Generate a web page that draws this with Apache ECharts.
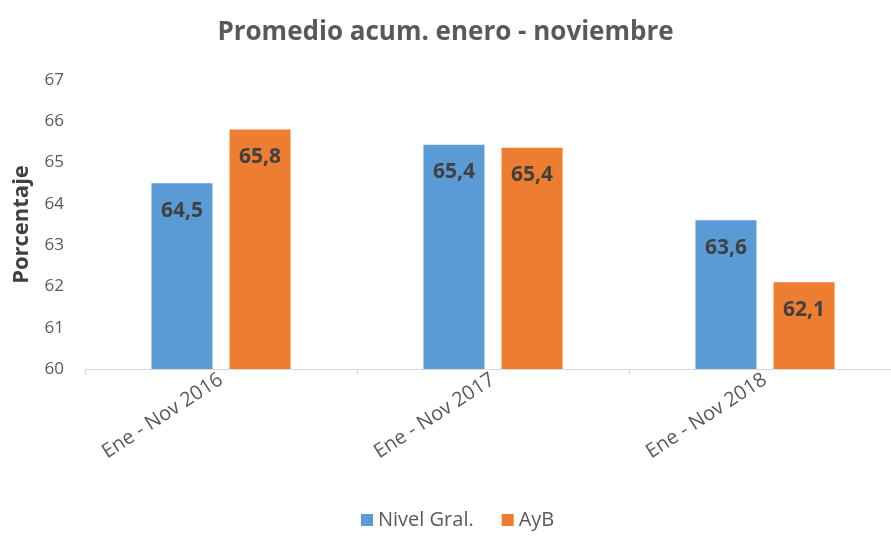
<!DOCTYPE html>
<html>
<head>
<meta charset="utf-8">
<script src="https://cdn.jsdelivr.net/npm/echarts@6/dist/echarts.min.js"></script>
<style>
    html, body { margin: 0; padding: 0; background: #fff; }
    #main { width: 891px; height: 537px; }
</style>
</head>
<body>
<div id="main"></div>
<script>
var categories = ['Ene - Nov 2016', 'Ene - Nov 2017', 'Ene - Nov 2018'];
var nivelGral = [64.5, 65.43, 63.6];
var ayb = [65.8, 65.36, 62.1];

var myChart = echarts.init(document.getElementById('main'));

var fontFam = '"Open Sans", "Noto Sans", sans-serif';

function fmt(p) {
    return p.value.toFixed(1).replace('.', ',');
}

var barLabel = {
    show: true,
    position: 'insideTop',
    distance: 17,
    color: '#404040',
    fontSize: 21,
    fontWeight: 'bold',
    fontFamily: fontFam,
    formatter: fmt
};

var option = {
    animation: false,
    title: {
        text: 'Promedio acum. enero - noviembre',
        left: 'center',
        top: 15,
        textStyle: {
            color: '#595959',
            fontSize: 26,
            fontWeight: 'bold',
            fontFamily: fontFam
        }
    },
    legend: {
        bottom: 2,
        left: 356,
        itemWidth: 12,
        itemHeight: 12,
        itemGap: 28,
        icon: 'rect',
        textStyle: { color: '#595959', fontSize: 20, fontFamily: fontFam },
        data: ['Nivel Gral.', 'AyB']
    },
    grid: {
        left: 85,
        top: 80,
        width: 816,
        height: 289,
        outerBoundsMode: 'none'
    },
    xAxis: {
        type: 'category',
        data: categories,
        axisLine: { lineStyle: { color: '#d9d9d9', width: 1 } },
        axisTick: { show: true, length: 6, lineStyle: { color: '#d9d9d9' } },
        axisLabel: {
            rotate: 33,
            margin: 9,
            color: '#595959',
            fontSize: 20,
            fontFamily: fontFam
        }
    },
    yAxis: {
        type: 'value',
        min: 60,
        max: 67,
        interval: 1,
        name: 'Porcentaje',
        nameLocation: 'middle',
        nameGap: 52,
        nameTextStyle: {
            color: '#404040',
            fontSize: 22,
            fontWeight: 'bold',
            fontFamily: fontFam
        },
        axisLine: { show: false },
        axisTick: { show: false },
        splitLine: { show: false },
        axisLabel: {
            color: '#595959',
            fontSize: 17,
            fontFamily: fontFam,
            margin: 21
        }
    },
    series: [
        {
            name: 'Nivel Gral.',
            type: 'bar',
            data: nivelGral,
            barWidth: 61,
            barGap: '28%',
            itemStyle: { color: '#5b9bd5' },
            label: barLabel
        },
        {
            name: 'AyB',
            type: 'bar',
            data: ayb,
            barWidth: 61,
            barGap: '28%',
            itemStyle: { color: '#ed7d31' },
            label: barLabel
        }
    ]
};

myChart.setOption(option);
</script>
</body>
</html>
